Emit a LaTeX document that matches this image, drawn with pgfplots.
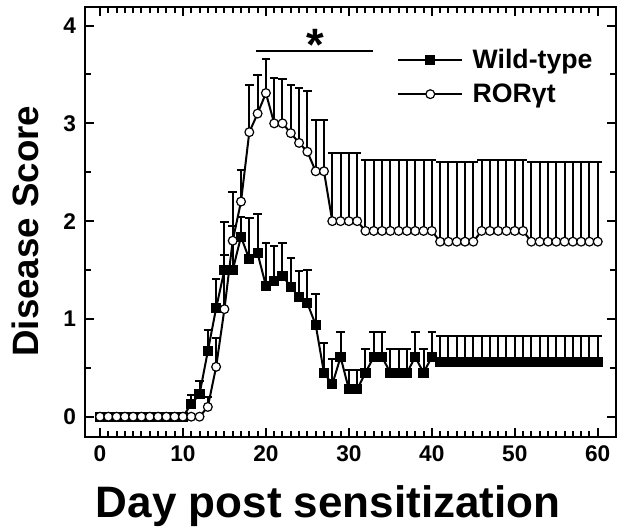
\documentclass[border=0pt]{standalone}
\usepackage{fontspec}
\setmainfont{Liberation Sans}
\usepackage{pgfplots}
\usepackage{pgfplotstable}
\pgfplotsset{compat=1.18}

\pgfplotstableread{
d m e
0 0 0
1 0 0
2 0 0
3 0 0
4 0 0
5 0 0
6 0 0
7 0 0
8 0 0
9 0 0
10 0 0
11 0.13 0.09
12 0.23 0.14
13 0.67 0.22
14 1.11 0.30
15 1.50 0.15
16 1.50 0.45
17 1.84 0.20
18 1.61 0.42
19 1.67 0.40
20 1.34 0.44
21 1.39 0.36
22 1.44 0.34
23 1.33 0.29
24 1.22 0.27
25 1.16 0.34
26 0.94 0.31
27 0.45 0.30
28 0.33 0.26
29 0.61 0.26
30 0.28 0.20
31 0.28 0.20
32 0.45 0.24
33 0.61 0.26
34 0.61 0.26
35 0.45 0.24
36 0.45 0.24
37 0.45 0.24
38 0.61 0.26
39 0.45 0.24
40 0.61 0.26
41 0.56 0.27
42 0.56 0.27
43 0.56 0.27
44 0.56 0.27
45 0.56 0.27
46 0.56 0.27
47 0.56 0.27
48 0.56 0.27
49 0.56 0.27
50 0.56 0.27
51 0.56 0.27
52 0.56 0.27
53 0.56 0.27
54 0.56 0.27
55 0.56 0.27
56 0.56 0.27
57 0.56 0.27
58 0.56 0.27
59 0.56 0.27
60 0.56 0.27
}\wildtype

\pgfplotstableread{
d m e
0 0 0
1 0 0
2 0 0
3 0 0
4 0 0
5 0 0
6 0 0
7 0 0
8 0 0
9 0 0
10 0 0
11 0 0
12 0 0
13 0.10 0.10
14 0.51 0.29
15 1.10 0.89
16 1.80 0.50
17 2.20 0.32
18 2.91 0.48
19 3.10 0.39
20 3.31 0.35
21 3.00 0.46
22 3.00 0.45
23 2.90 0.49
24 2.80 0.56
25 2.71 0.62
26 2.51 0.52
27 2.51 0.52
28 2.00 0.70
29 2.00 0.70
30 2.00 0.70
31 2.00 0.70
32 1.90 0.73
33 1.90 0.73
34 1.90 0.73
35 1.90 0.73
36 1.90 0.73
37 1.90 0.73
38 1.90 0.73
39 1.90 0.73
40 1.90 0.73
41 1.79 0.81
42 1.79 0.81
43 1.79 0.81
44 1.79 0.81
45 1.79 0.81
46 1.90 0.73
47 1.90 0.73
48 1.90 0.73
49 1.90 0.73
50 1.90 0.73
51 1.90 0.73
52 1.79 0.81
53 1.79 0.81
54 1.79 0.81
55 1.79 0.81
56 1.79 0.81
57 1.79 0.81
58 1.79 0.81
59 1.79 0.81
60 1.79 0.81
}\rorgt

\begin{document}
\begin{tikzpicture}
\begin{axis}[
  width=398pt, height=322.5pt, scale only axis,
  xmin=-1.8, xmax=62.2, ymin=-0.21, ymax=4.19,
  axis line style={line width=1.5pt},
  major tick length=7pt,
  minor tick length=4.5pt,
  tick align=inside,
  tick style={draw=black, line width=1.5pt},
  xtick={0,10,...,60},
  ytick={0,1,2,3,4},
  minor x tick num=9, minor y tick num=1,
  axis on top,
  /pgf/number format/assume math mode=true,
  tick label style={font=\bfseries\fontsize{17}{17}\selectfont},
  x tick label style={yshift=-2.5pt},
  y tick label style={xshift=-3.3pt},
  xlabel={Day post sensitization},
  ylabel={Disease Score},
  xlabel style={at={(axis description cs:0.458,0)}, anchor=base, yshift=-60pt,
    font=\bfseries\fontsize{33}{33}\selectfont},
  ylabel style={at={(axis description cs:-0.113,0.479)}, anchor=center,
    font=\bfseries\fontsize{27.5}{27.5}\selectfont},
  legend style={draw=none, fill=none, at={(axis description cs:0.58,0.915)},
    anchor=north west, font=\bfseries\fontsize{20}{20}\selectfont,
    row sep=6pt, /tikz/every odd column/.append style={column sep=5pt}},
  legend cell align=left,
  legend image code/.code={\draw[mark repeat=2, mark phase=2] plot coordinates {(0pt,0pt) (24pt,0pt) (48pt,0pt)};},
  error bars/y dir=plus,
  error bars/y explicit,
  error bars/error mark options={rotate=90, mark size=3.2pt, line width=1.5pt},
  error bars/error bar style={line width=1.5pt, solid},
]
\addplot[black, line width=1.5pt, mark=square*, mark size=3.4pt,
  mark options={solid, fill=black, line width=0.8pt}]
  table[x=d, y=m, y error=e] {\wildtype};
\addlegendentry{Wild-type}
\addplot[black, line width=1.5pt, mark=*, mark size=3.3pt,
  mark options={solid, fill=white, draw=black, line width=0.9pt}]
  table[x=d, y=m, y error=e] {\rorgt};
\addlegendentry{RORγt}
\draw[line width=1.4pt] (axis cs:18.8,3.74) -- (axis cs:32.9,3.74);
\node[anchor=base, inner sep=0pt, font=\bfseries\fontsize{34}{34}\selectfont] at (axis cs:25.9,3.64) {*};
\coordinate (SW) at (rel axis cs:0,0);
\coordinate (NE) at (rel axis cs:1,1);
\end{axis}
\pgfresetboundingbox
\path[use as bounding box] ([xshift=-63.75pt,yshift=-69.75pt]SW) rectangle ([xshift=6pt,yshift=5.25pt]NE);
\end{tikzpicture}
\end{document}
